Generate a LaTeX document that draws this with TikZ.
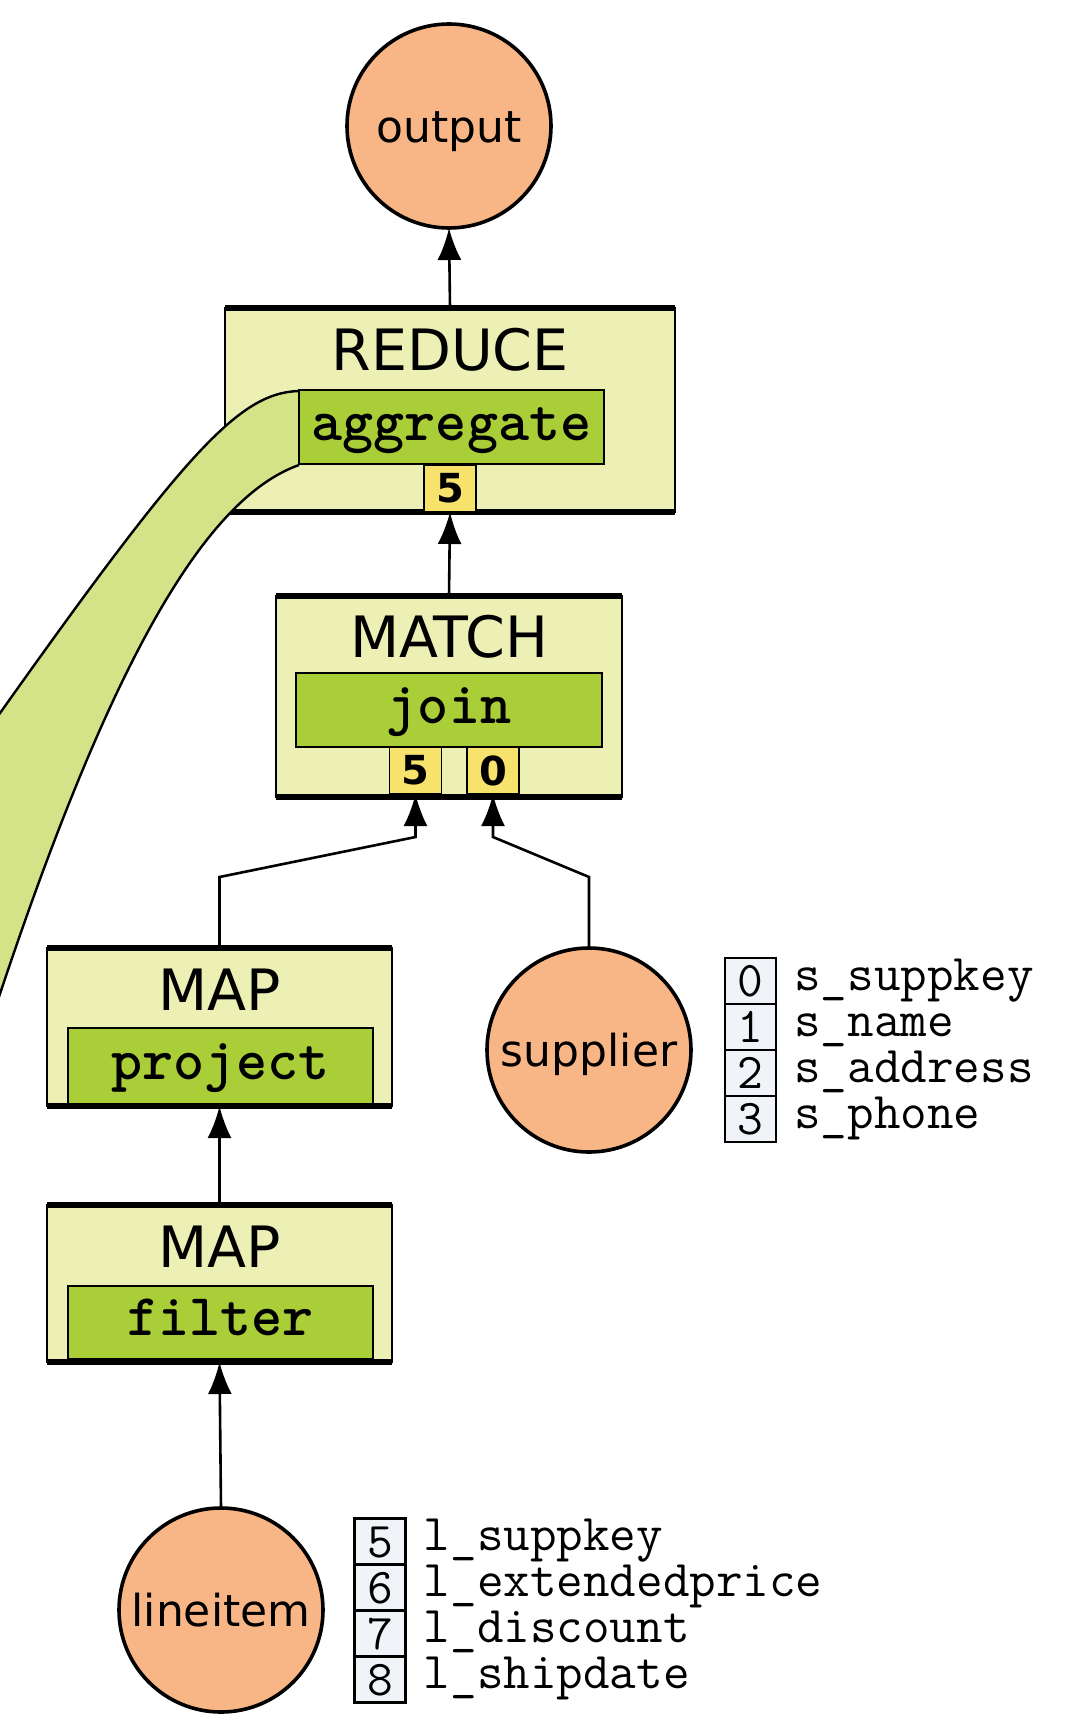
\documentclass[tikz,border=0pt]{standalone}
\usepackage{fontspec}
\setmainfont{DejaVu Sans}
\usetikzlibrary{arrows.meta}

\definecolor{opfill}{HTML}{ECF0B5}
\definecolor{udfgreen}{HTML}{AACE38}
\definecolor{bandgreen}{HTML}{D4E388}
\definecolor{keyyellow}{HTML}{F7E26B}
\definecolor{srcorange}{HTML}{F8B585}
\definecolor{fieldgray}{HTML}{F0F3F7}

\begin{document}
\begin{tikzpicture}[x=0.5pt,y=-0.5pt,
  opbox/.style={draw,fill=opfill,line width=1.4pt,inner sep=0pt,outer sep=0pt},
  rim/.style={line width=3pt},
  optitle/.style={inner sep=0pt,font=\fontsize{28.5}{28.5}\selectfont},
  udfbox/.style={draw,fill=udfgreen,line width=0.9pt,inner sep=0pt,outer sep=0pt,
    text height=13.3pt,text depth=0pt,font=\ttfamily\bfseries\fontsize{29.6}{29.6}\selectfont},
  keybox/.style={draw,fill=keyyellow,line width=0.8pt,inner sep=0pt,outer sep=0pt,
    minimum width=26pt,minimum height=23.5pt,font=\bfseries\fontsize{20}{20}\selectfont},
  source/.style={circle,draw,fill=srcorange,line width=1.8pt,minimum size=102pt,
    inner sep=0pt,outer sep=0pt,text height=16pt,text depth=0pt,font=\fontsize{22}{22}\selectfont},
  field/.style={draw,fill=fieldgray,line width=1.3pt,inner sep=0pt,outer sep=0pt,
    minimum width=25.5pt,minimum height=23pt,text height=15.5pt,text depth=0pt,
    font=\ttfamily\fontsize{25}{25}\selectfont},
  fieldname/.style={anchor=mid west,inner sep=0pt,font=\ttfamily\fontsize{25.8}{25.8}\selectfont},
  flow/.style={line width=1.3pt,-{Latex[length=16pt,width=12pt]}}
]
\useasboundingbox (0,0) rectangle (1088,1718);

% sources
\node[source] (output) at (449,126) {output};
\node[source] (supplier) at (589,1050) {supplier};
\node[source] (lineitem) at (221,1610) {lineitem};

% REDUCE operator
\node[opbox,minimum width=225pt,minimum height=102pt] (reduce) at (450,410) {};
\draw[rim] (reduce.north west) -- (reduce.north east);
\draw[rim] (reduce.south west) -- (reduce.south east);
\node[optitle] (reducetitle) at (450,350) {REDUCE};

% MATCH operator
\node[opbox,minimum width=173pt,minimum height=100.5pt] (match) at (449,696.5) {};
\draw[rim] (match.north west) -- (match.north east);
\draw[rim] (match.south west) -- (match.south east);
\node[optitle] (matchtitle) at (449,637) {MATCH};
\node[udfbox,minimum width=153pt,minimum height=37pt] (join) at (449,710) {join};
\node[keybox] (m5) at (415.5,770.5) {5};
\node[keybox] (m0) at (493,770.5) {0};

% MAP operators
\node[opbox,minimum width=172.5pt,minimum height=79pt] (map1) at (219.5,1027) {};
\draw[rim] (map1.north west) -- (map1.north east);
\draw[rim] (map1.south west) -- (map1.south east);
\node[optitle] (map1title) at (219.5,990) {MAP};
\node[udfbox,minimum width=152.5pt,minimum height=38pt] (project) at (220.5,1066) {project};

\node[opbox,minimum width=172.5pt,minimum height=78.5pt] (map2) at (219.5,1283.5) {};
\draw[rim] (map2.north west) -- (map2.north east);
\draw[rim] (map2.south west) -- (map2.south east);
\node[optitle] (map2title) at (219.5,1247) {MAP};
\node[udfbox,minimum width=152.5pt,minimum height=36.5pt] (filter) at (220.5,1322.5) {filter};

% band leading into the aggregate function
\coordinate (bandtop) at (299,391);
\coordinate (bandbot) at (299,465);
\begin{scope}
  \clip (0,0) rectangle (1088,1718);
  \fill[bandgreen] (bandtop) .. controls (230,393) and (170,470) .. (-100,855)
    -- (-100,1100) -- (-20,1055) .. controls (100,680) and (200,500) .. (bandbot) -- cycle;
  \draw[line width=1.2pt] (bandtop) .. controls (230,393) and (170,470) .. (-100,855);
  \draw[line width=1.2pt] (bandbot) .. controls (200,500) and (100,680) .. (-20,1055);
\end{scope}
\node[udfbox,minimum width=152.5pt,minimum height=37pt] (aggregate) at (451.5,427) {aggregate};
\node[keybox] (r5) at (450,488.5) {5};

% data flow
\draw[flow] (reduce.north) -- (output.south);
\draw[flow] (match.north) -- (reduce.south);
\coordinate (lbend1) at (219.5,877);
\coordinate (lbend2) at (415.5,837);
\draw[flow] (map1.north) -- (lbend1) -- (lbend2) -- (m5.south);
\coordinate (rbend1) at (589,877);
\coordinate (rbend2) at (493,837);
\draw[flow] (supplier.north) -- (rbend1) -- (rbend2) -- (m0.south);
\draw[flow] (map2.north) -- (map1.south);
\draw[flow] (lineitem.north) -- (map2.south);

% supplier schema
\node[field] (s0) at (750.5,981) {0};
\node[field] (s1) at (750.5,1027) {1};
\node[field] (s2) at (750.5,1073) {2};
\node[field] (s3) at (750.5,1119) {3};
\node[fieldname] (s0n) at ([xshift=9pt,yshift=-2pt]s0.east) {s\_suppkey};
\node[fieldname] (s1n) at ([xshift=9pt,yshift=-2pt]s1.east) {s\_name};
\node[fieldname] (s2n) at ([xshift=9pt,yshift=-2pt]s2.east) {s\_address};
\node[fieldname] (s3n) at ([xshift=9pt,yshift=-2pt]s3.east) {s\_phone};

% lineitem schema
\node[field] (l5) at (380,1541.5) {5};
\node[field] (l6) at (380,1587.5) {6};
\node[field] (l7) at (380,1633.5) {7};
\node[field] (l8) at (380,1679.5) {8};
\node[fieldname] (l5n) at ([xshift=9pt,yshift=-2pt]l5.east) {l\_suppkey};
\node[fieldname] (l6n) at ([xshift=9pt,yshift=-2pt]l6.east) {l\_extendedprice};
\node[fieldname] (l7n) at ([xshift=9pt,yshift=-2pt]l7.east) {l\_discount};
\node[fieldname] (l8n) at ([xshift=9pt,yshift=-2pt]l8.east) {l\_shipdate};
\end{tikzpicture}
\end{document}
